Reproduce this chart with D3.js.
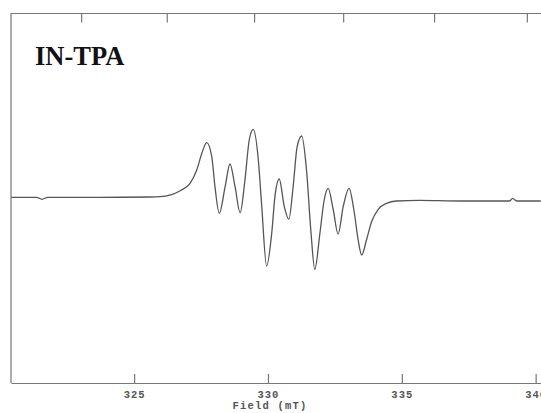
<!DOCTYPE html>
<html>
<head>
    <title>IN-TPA EPR spectrum - D3.js</title>
    <script src="https://d3js.org/d3.v7.min.js"></script>
    <style>
        body { margin: 0; background: #fff; }
        .axis text {
            font-family: "Liberation Mono", monospace;
            font-size: 10.5px;
            font-weight: bold;
            letter-spacing: 1px;
            fill: #555;
        }
        .axis path, .axis line { stroke: #777; stroke-width: 1.2; }
        .frame { stroke: #777; stroke-width: 1.2; fill: none; }
        .spectrum { fill: none; stroke: #555; stroke-width: 1.3; }
        .axis-title {
            font-family: "Liberation Mono", monospace;
            font-size: 10.5px;
            font-weight: bold;
            letter-spacing: 1.2px;
            fill: #555;
            text-anchor: middle;
        }
        .label {
            font-family: "Liberation Serif", serif;
            font-size: 26.5px;
            font-weight: bold;
            fill: #111;
        }
    </style>
</head>
<body>
<div id="chart"></div>
<script>
    // field (mT) and derivative signal (a.u.)
    const field = [320.41, 321.35, 321.56, 321.77, 323.73, 325.60, 325.97, 326.72, 327.09, 327.34,
        327.53, 327.71, 327.90, 328.02, 328.18, 328.40, 328.58, 328.77, 328.96, 329.14,
        329.30, 329.45, 329.64, 329.76, 329.95, 330.14, 330.26, 330.42, 330.61, 330.78,
        330.94, 331.09, 331.26, 331.44, 331.60, 331.75, 331.94, 332.10, 332.25, 332.44,
        332.62, 332.81, 333.03, 333.21, 333.37, 333.50, 333.68, 333.87, 334.12, 334.43,
        334.80, 335.65, 337.16, 338.84, 339.03, 339.14, 339.29, 340.19];
    const signal = [0.7, 0.7, -1.3, 0.7, 0.7, 1, 1.3, 7.3, 14.7, 28,
        44.7, 55.3, 41.3, 11.3, -15.3, 11.3, 34, 11.3, -14.7, 18,
        58, 68.7, 38, -5.3, -68, -35.3, 1.3, 19, -8.7, -21.3,
        11.3, 51.3, 62, 28, -32, -71.3, -35.3, -2, 9.7, -12,
        -36, -8.7, 9.7, -12, -42, -57, -42, -23.7, -11.3, -5.3,
        -3, -2.3, -3, -3, -3, -0.3, -3, -3];

    const fieldTicks = [325, 330, 335, 340];
    const gTicks = [2.04, 2.02, 2.00, 1.98, 1.96, 1.94]; // unlabelled g-value ticks on top
    const hvOverMuB = 659.0; // mT, B = hv / (g muB)

    const W = 541, H = 413;
    const plotLeft = 11, plotTop = 13.5, plotBottom = 383;

    const svg = d3.select("#chart").append("svg")
        .attr("width", W)
        .attr("height", H);

    const x = d3.scaleLinear().domain([320.4, 340.2]).range([plotLeft, W]);
    const y = d3.scaleLinear().domain([-185, 185]).range([plotBottom, plotBottom - 370]);

    // bottom axis (340 runs off the right edge, as in the scan)
    svg.append("g")
        .attr("class", "axis")
        .attr("transform", `translate(0,${plotBottom})`)
        .call(d3.axisBottom(x).tickValues(fieldTicks).tickFormat(d3.format("d"))
            .tickSizeInner(-9).tickSizeOuter(0).tickPadding(7.5));

    svg.append("text")
        .attr("class", "axis-title")
        .attr("x", x(330) + 2)
        .attr("y", 408.5)
        .text("Field (mT)");

    // left and top frame
    svg.append("path")
        .attr("class", "frame")
        .attr("d", `M${plotLeft},${plotBottom}V${plotTop}H${W}`);

    svg.selectAll(".gtick")
        .data(gTicks)
        .enter()
        .append("line")
        .attr("class", "frame")
        .attr("x1", d => x(hvOverMuB / d))
        .attr("x2", d => x(hvOverMuB / d))
        .attr("y1", plotTop)
        .attr("y2", plotTop + 9);

    // spectrum
    const pts = field.map((f, i) => [f, signal[i]]);
    svg.append("path")
        .datum(pts)
        .attr("class", "spectrum")
        .attr("d", d3.line()
            .x(d => x(d[0]))
            .y(d => y(d[1]))
            .curve(d3.curveMonotoneX));

    svg.append("text")
        .attr("class", "label")
        .attr("x", 35)
        .attr("y", 65)
        .text("IN-TPA");
</script>
</body>
</html>
